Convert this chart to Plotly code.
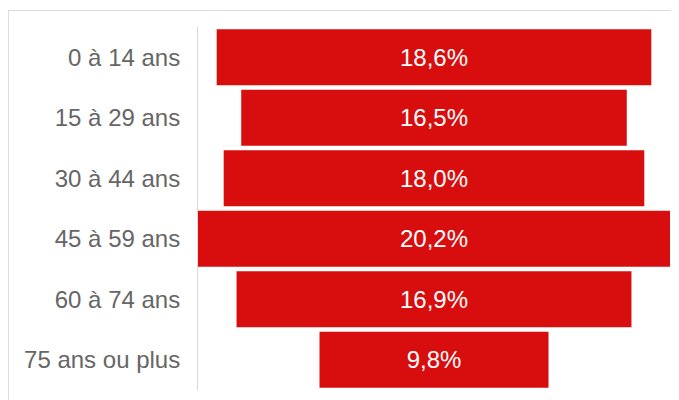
import plotly.graph_objects as go

categories = ["0 à 14 ans", "15 à 29 ans", "30 à 44 ans", "45 à 59 ans", "60 à 74 ans", "75 ans ou plus"]
values = [18.6, 16.5, 18.0, 20.2, 16.9, 9.8]
labels = ["18,6%", "16,5%", "18,0%", "20,2%", "16,9%", "9,8%"]

W, H = 679, 400
OFF = 8  # page body margin in the screenshot
fig = go.Figure(go.Bar(
    y=categories,
    x=values,
    base=[-v / 2 for v in values],
    orientation="h",
    marker=dict(color="#D80E0E", line=dict(width=0)),
    text=labels,
    textposition="inside",
    insidetextanchor="middle",
    textfont=dict(color="white", size=24, family="Liberation Sans, Arial, sans-serif"),
    hoverinfo="skip",
))

fig.update_layout(
    width=W, height=H,
    margin=dict(l=0, r=0, t=0, b=0, autoexpand=False),
    paper_bgcolor="white", plot_bgcolor="white",
    bargap=0.075,
    showlegend=False,
    font=dict(family="Liberation Sans, Arial, sans-serif"),
    xaxis=dict(domain=[(198 - OFF) / W, (670 - OFF) / W], range=[-10.1, 10.1], visible=False, fixedrange=True),
    yaxis=dict(domain=[(H - (390 - OFF)) / H, (H - (27 - OFF)) / H], autorange="reversed",
               showgrid=False, zeroline=False,
               showline=True, linecolor="#d9d9d9", linewidth=1, ticks="",
               ticklabelstandoff=12,
               tickfont=dict(size=24, color="#666666", family="Liberation Sans, Arial, sans-serif")),
    shapes=[dict(type="rect", xref="paper", yref="paper",
                 x0=0.5 / W, x1=1.05, y0=-0.05, y1=1 - 2.5 / H,
                 line=dict(color="#dddddd", width=1), layer="below")],
)

fig.write_html("out.html")
